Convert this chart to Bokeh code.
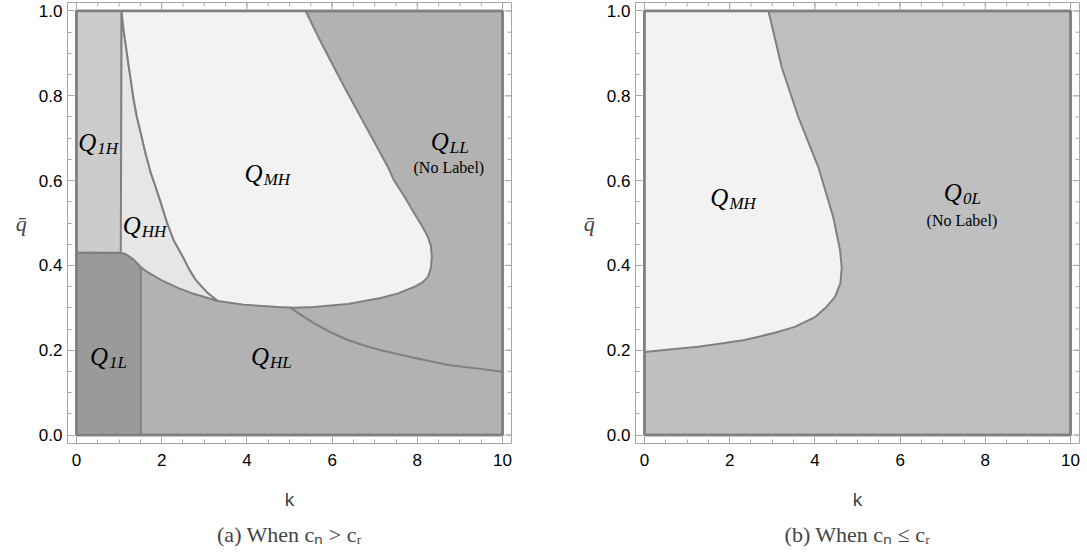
from bokeh.plotting import figure
from bokeh.models import Range1d, FixedTicker, Title
from bokeh.layouts import row
from bokeh.embed import file_html
from bokeh.resources import INLINE
from bokeh.core.properties import value

# ---------------- data ----------------
k_lim = [0.0, 10.0]
q_lim = [0.0, 1.0]
x_ticks = [0, 2, 4, 6, 8, 10]
x_tick_labels = ["0", "2", "4", "6", "8", "10"]
y_ticks = [0.0, 0.2, 0.4, 0.6, 0.8, 1.0]
y_tick_labels = ["0.0", "0.2", "0.4", "0.6", "0.8", "1.0"]
x_minor = [i * 0.5 for i in range(0, 21)]
y_minor = [i * 0.05 for i in range(0, 21)]

# panel (a): region boundaries
q1h_right_k = 1.06     # vertical divider Q1H | QHH
q1_top_q = 0.43        # top of Q1L / bottom of Q1H
q1l_right_k = 1.51     # right edge of Q1L
# curve between QHH and QMH
A_k = [1.06, 1.10, 1.15, 1.23, 1.345, 1.42, 1.51, 1.62, 1.74, 1.86, 1.98, 2.13, 2.28, 2.50, 2.65, 2.80, 3.05, 3.32]
A_q = [1.00, 0.96, 0.925, 0.868, 0.79, 0.75, 0.712, 0.665, 0.62, 0.585, 0.548, 0.50, 0.46, 0.42, 0.39, 0.366, 0.338, 0.316]
# lower boundary of QHH / QMH (top of Q1L / QHL), continuing round the QMH lobe
L_k = [1.04, 1.12, 1.20, 1.35, 1.51, 1.67, 1.98, 2.38, 2.75, 3.32, 3.93, 4.73, 5.10, 5.57, 6.37,
       7.14, 7.55, 7.92, 8.12, 8.25, 8.32, 8.34, 8.32, 8.25, 8.10, 7.92, 7.70, 7.45, 7.31, 6.99, 6.67, 6.35, 6.04, 5.70, 5.38]
L_q = [0.429, 0.428, 0.424, 0.413, 0.396, 0.384, 0.366, 0.347, 0.333, 0.316, 0.307, 0.302, 0.300, 0.302, 0.309,
       0.323, 0.334, 0.349, 0.360, 0.373, 0.395, 0.420, 0.445, 0.467, 0.495, 0.524, 0.562, 0.601, 0.632, 0.691, 0.750, 0.809, 0.868, 0.934, 1.0]
# boundary between QHL and QLL
D_k = [5.03, 5.30, 5.57, 5.95, 6.37, 6.75, 7.14, 7.92, 8.72, 9.49, 10.0]
D_q = [0.300, 0.281, 0.264, 0.243, 0.224, 0.211, 0.200, 0.182, 0.165, 0.156, 0.149]

# panel (b): boundary of QMH
R_k = [2.91, 3.22, 3.61, 4.08, 4.43, 4.59, 4.63, 4.60, 4.47, 4.27, 4.00, 3.53, 3.06, 2.35, 1.88, 1.26, 0.71, 0.0]
R_q = [1.00, 0.868, 0.75, 0.632, 0.514, 0.436, 0.396, 0.358, 0.325, 0.302, 0.278, 0.255, 0.241, 0.224, 0.217, 0.208, 0.203, 0.196]

# region labels
a_lab_sub = ["1H", "HH", "MH", "LL", "1L", "HL"]
a_lab_k = [0.465, 1.51, 4.37, 8.74, 0.74, 4.52]
a_lab_q = [0.691, 0.493, 0.616, 0.693, 0.184, 0.184]
a_note_k = [8.74]
a_note_q = [0.631]
b_lab_sub = ["MH", "0L"]
b_lab_k = [1.97, 7.45]
b_lab_q = [0.561, 0.571]
b_note_k = [7.45]
b_note_q = [0.507]

# ---------------- style ----------------
EDGE = "#808080"
AXC = "#a6a6a6"
C_BASE_A = "#b2b2b2"
C_Q1H = "#cccccc"
C_Q1L = "#9a9a9a"
C_QHH = "#e6e6e6"
C_QMH = "#f2f2f2"
C_BASE_B = "#bfbfbf"
X_LO, X_HI = -0.21, 10.21
Y_LO, Y_HI = -0.02, 1.02


def make_fig(width, left_border, right_border, caption):
    p = figure(width=width, height=559, output_backend="svg", toolbar_location=None,
               x_range=Range1d(X_LO, X_HI), y_range=Range1d(Y_LO, Y_HI),
               min_border_left=left_border, min_border_right=right_border,
               min_border_top=2, min_border_bottom=116,
               x_axis_label="k", y_axis_label="q\u0304")
    p.xgrid.visible = False
    p.ygrid.visible = False
    p.outline_line_color = AXC
    p.outline_line_width = 1
    p.background_fill_color = "white"
    p.border_fill_color = "white"

    xa = p.below[0]
    ya = p.left[0]
    xa.ticker = FixedTicker(ticks=x_ticks, minor_ticks=x_minor)
    xa.major_label_overrides = {t: l for t, l in zip(x_ticks, x_tick_labels)}
    ya.ticker = FixedTicker(ticks=y_ticks, minor_ticks=y_minor)
    ya.major_label_overrides = {t: l for t, l in zip(y_ticks, y_tick_labels)}
    for ax in [xa, ya]:
        ax.axis_line_color = AXC
        ax.major_tick_line_color = AXC
        ax.minor_tick_line_color = AXC
        ax.major_tick_in = 7
        ax.major_tick_out = 0
        ax.minor_tick_in = 4
        ax.minor_tick_out = 0
        ax.major_label_text_font = "Liberation Sans"
        ax.major_label_text_font_size = "17px"
        ax.major_label_text_color = "black"
    xa.major_label_standoff = 10
    xa.axis_label_standoff = 20
    xa.axis_label_text_font = "Liberation Sans"
    xa.axis_label_text_font_size = "19px"
    xa.axis_label_text_font_style = "normal"
    ya.major_label_standoff = 5
    ya.axis_label_standoff = 9
    ya.axis_label_orientation = "horizontal"
    ya.axis_label_text_font = "Liberation Serif"
    ya.axis_label_text_font_size = "22px"
    ya.axis_label_text_font_style = "italic"

    # tick marks on the top and right frame edges (pointing inward)
    p.ray(x=x_ticks, y=[Y_HI] * len(x_ticks), length=7, length_units="screen",
          angle=-90, angle_units="deg", line_color=AXC, line_width=1)
    p.ray(x=x_minor, y=[Y_HI] * len(x_minor), length=4, length_units="screen",
          angle=-90, angle_units="deg", line_color=AXC, line_width=1)
    p.ray(x=[X_HI] * len(y_ticks), y=y_ticks, length=7, length_units="screen",
          angle=180, angle_units="deg", line_color=AXC, line_width=1)
    p.ray(x=[X_HI] * len(y_minor), y=y_minor, length=4, length_units="screen",
          angle=180, angle_units="deg", line_color=AXC, line_width=1)

    p.add_layout(Title(text=caption, align="center", text_font="Liberation Serif",
                       text_font_size="22px", text_font_style="normal", standoff=14), "below")
    return p


def add_labels(p, subs, ks, qs, note_k, note_q):
    p.text(x=ks, y=qs, text=["Q"] * len(subs), text_align="right", text_baseline="middle",
           text_font=value("Liberation Serif"), text_font_style="italic",
           text_font_size="25px", text_color="black")
    p.text(x=ks, y=qs, text=subs, text_align="left", text_baseline="middle",
           text_font=value("Liberation Serif"), text_font_style="italic",
           text_font_size="17px", text_color="black", x_offset=1, y_offset=6)
    p.text(x=note_k, y=note_q, text=["(No Label)"], text_align="center", text_baseline="middle",
           text_font=value("Liberation Serif"), text_font_size="16px", text_color="black")


# ---------------- panel (a) ----------------
pa = make_fig(560, 67, 49, "(a) When c\u2099 > c\u1d63")
base_k = [k_lim[0], k_lim[1], k_lim[1], k_lim[0]]
base_q = [q_lim[0], q_lim[0], q_lim[1], q_lim[1]]
pa.patch(base_k, base_q, fill_color=C_BASE_A, line_color=EDGE, line_width=2.5)

q1h_k = [k_lim[0], q1h_right_k, q1h_right_k, k_lim[0]]
q1h_q = [q1_top_q, q1_top_q, q_lim[1], q_lim[1]]
pa.patch(q1h_k, q1h_q, fill_color=C_Q1H, line_color=EDGE, line_width=2)

i_q1l = L_k.index(q1l_right_k)
q1l_k = [k_lim[0], q1l_right_k] + L_k[:i_q1l + 1][::-1] + [k_lim[0]]
q1l_q = [q_lim[0], q_lim[0]] + L_q[:i_q1l + 1][::-1] + [q1_top_q]
pa.patch(q1l_k, q1l_q, fill_color=C_Q1L, line_color=EDGE, line_width=2)

i_junc = L_k.index(A_k[-1])
qhh_k = [q1h_right_k] + L_k[:i_junc + 1] + A_k[::-1]
qhh_q = [q_lim[1]] + L_q[:i_junc + 1] + A_q[::-1]
pa.patch(qhh_k, qhh_q, fill_color=C_QHH, line_color=EDGE, line_width=2)

qmh_k = A_k + L_k[i_junc + 1:]
qmh_q = A_q + L_q[i_junc + 1:]
pa.patch(qmh_k, qmh_q, fill_color=C_QMH, line_color=EDGE, line_width=2)

pa.line(D_k, D_q, line_color=EDGE, line_width=2)
pa.patch(base_k, base_q, fill_color=None, line_color=EDGE, line_width=2.5)

add_labels(pa, a_lab_sub, a_lab_k, a_lab_q, a_note_k, a_note_q)

# ---------------- panel (b) ----------------
pb = make_fig(527, 75, 8, "(b) When c\u2099 \u2264 c\u1d63")
pb.patch(base_k, base_q, fill_color=C_BASE_B, line_color=EDGE, line_width=2.5)
mhb_k = [k_lim[0]] + R_k
mhb_q = [q_lim[1]] + R_q
pb.patch(mhb_k, mhb_q, fill_color=C_QMH, line_color=EDGE, line_width=2)
pb.patch(base_k, base_q, fill_color=None, line_color=EDGE, line_width=2.5)
add_labels(pb, b_lab_sub, b_lab_k, b_lab_q, b_note_k, b_note_q)

layout = row(pa, pb)
open("out.html", "w").write(file_html(layout, INLINE))
